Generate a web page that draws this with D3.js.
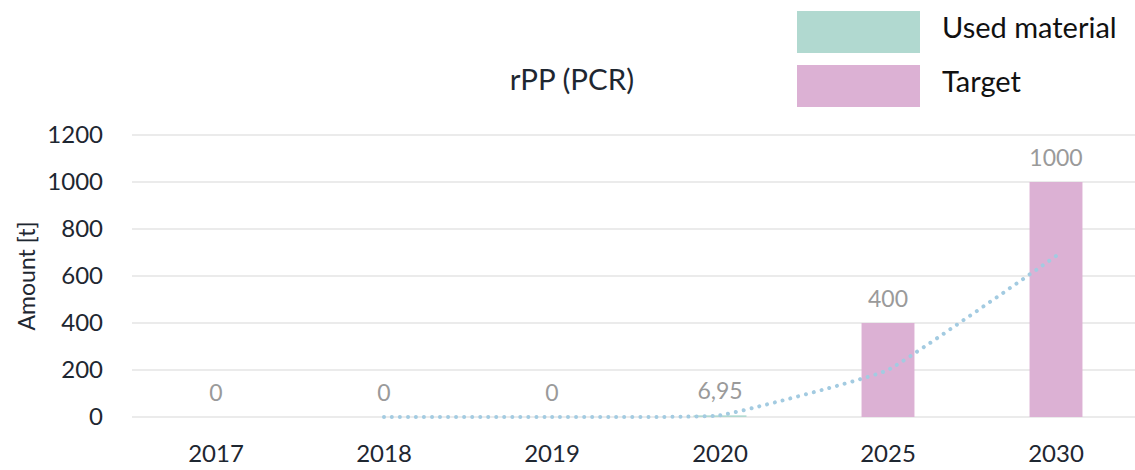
<!DOCTYPE html>
<html>
<head>
<meta charset="utf-8">
<script src="https://cdn.jsdelivr.net/npm/d3@7"></script>
<style>
  body { margin: 0; background: #fff; }
  svg { display: block; font-family: Lato, "Open Sans", sans-serif; }
</style>
</head>
<body>
<svg id="grafico" width="1135" height="470"></svg>
<script>
// datos del grafico
var anos = ["2017", "2018", "2019", "2020", "2025", "2030"];
var materialUsado = [0, 0, 0, 6.95, null, null];
var objetivo = [null, null, null, null, 400, 1000];
var tendencia = [null, 0, 0, 6.95, 200, 685];
var ticksY = [0, 200, 400, 600, 800, 1000, 1200];
var leyenda = ["Used material", "Target"];

var colorUsado = "#b1d9d0",
    colorObjetivo = "#dcb1d4",
    colorLinea = "#a3cbe1";

var svg = d3.select("#grafico");

var x = d3.scaleBand()
    .domain(anos)
    .range([132, 1140])
    .paddingInner(0.685)
    .paddingOuter(0.3425);

var y = d3.scaleLinear()
    .domain([0, 1200])
    .range([417, 135]);

// lineas de la cuadricula
svg.append("g")
    .selectAll("line")
    .data(ticksY)
    .join("line")
    .attr("x1", 132)
    .attr("x2", 1140)
    .attr("y1", d => y(d))
    .attr("y2", d => y(d))
    .style("stroke", "#e4e4e4")
    .style("stroke-width", 1.5);

// eje Y
var ejeY = svg.append("g")
    .attr("transform", "translate(110,0)")
    .call(d3.axisLeft(y).tickValues(ticksY).tickFormat(d3.format("d")).tickSize(0).tickPadding(7));
ejeY.select(".domain").remove();
ejeY.selectAll("text")
    .style("font-size", "24px")
    .style("font-family", "Lato, sans-serif")
    .style("fill", "#1e2731");

// eje X
var ejeX = svg.append("g")
    .attr("transform", "translate(0,438)")
    .call(d3.axisBottom(x).tickSize(0).tickPadding(7));
ejeX.select(".domain").remove();
ejeX.selectAll("text")
    .style("font-size", "24px")
    .style("font-family", "Lato, sans-serif")
    .style("fill", "#1e2731");

// barras
var datosUsado = anos.map((a, i) => ({ ano: a, v: materialUsado[i] })).filter(d => d.v !== null);
var datosObjetivo = anos.map((a, i) => ({ ano: a, v: objetivo[i] })).filter(d => d.v !== null);

svg.append("g")
    .selectAll("rect")
    .data(datosUsado)
    .join("rect")
    .attr("x", d => x(d.ano))
    .attr("width", x.bandwidth())
    .attr("y", d => y(d.v))
    .attr("height", d => y(0) - y(d.v))
    .style("fill", colorUsado);

svg.append("g")
    .selectAll("rect")
    .data(datosObjetivo)
    .join("rect")
    .attr("x", d => x(d.ano))
    .attr("width", x.bandwidth())
    .attr("y", d => y(d.v))
    .attr("height", d => y(0) - y(d.v))
    .style("fill", colorObjetivo);

// linea punteada
var datosLinea = anos.map((a, i) => ({ ano: a, v: tendencia[i] })).filter(d => d.v !== null);
var linea = d3.line()
    .x(d => x(d.ano) + x.bandwidth() / 2)
    .y(d => y(d.v))
    .curve(d3.curveCardinal.tension(0.7));

svg.append("path")
    .datum(datosLinea)
    .attr("d", linea)
    .style("fill", "none")
    .style("stroke", colorLinea)
    .style("stroke-width", 4)
    .style("stroke-linecap", "round")
    .style("stroke-dasharray", "0.01 8");

// etiquetas de valores
var formato = v => String(v).replace(".", ",");
svg.append("g")
    .selectAll("text")
    .data(datosUsado.concat(datosObjetivo))
    .join("text")
    .attr("x", d => x(d.ano) + x.bandwidth() / 2)
    .attr("y", d => y(d.v) - 16)
    .attr("text-anchor", "middle")
    .style("font-size", "23px")
    .style("fill", "#9a9a9a")
    .text(d => formato(d.v));

// titulo
svg.append("text")
    .attr("x", 572)
    .attr("y", 90)
    .attr("text-anchor", "middle")
    .style("font-size", "29.5px")
    .style("fill", "#1e2731")
    .text("rPP (PCR)");

// titulo eje Y
svg.append("text")
    .attr("transform", "translate(35,276) rotate(-90)")
    .attr("text-anchor", "middle")
    .style("font-size", "23px")
    .style("fill", "#1e2731")
    .text("Amount [t]");

// leyenda
var ley = svg.append("g")
    .selectAll("g")
    .data(leyenda)
    .join("g")
    .attr("transform", (d, i) => "translate(797," + (11 + i * 54) + ")");
ley.append("rect")
    .attr("width", 123)
    .attr("height", 42)
    .style("fill", (d, i) => i === 0 ? colorUsado : colorObjetivo);
ley.append("text")
    .attr("x", 145)
    .attr("y", 27)
    .style("font-size", "29px")
    .style("fill", "#111")
    .text(d => d);
</script>
</body>
</html>
